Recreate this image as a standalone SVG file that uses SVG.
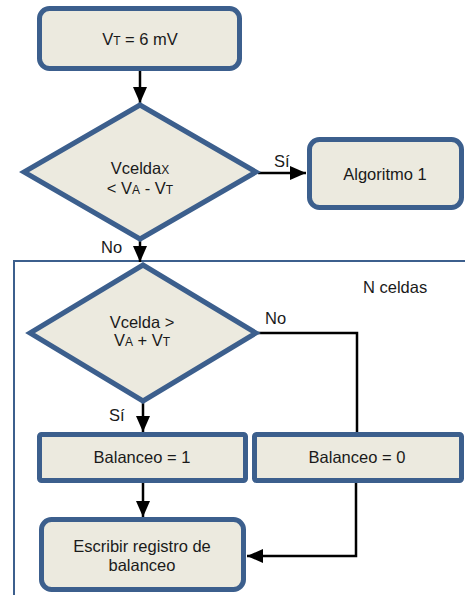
<svg xmlns="http://www.w3.org/2000/svg" width="465" height="595" viewBox="0 0 465 595">
<defs>
<style>
.n{fill:#ECEADF;stroke:#3C5F8D;stroke-width:5}
.t{font-family:"Liberation Sans",Arial,sans-serif;font-size:16.5px;fill:#1a1a1a;text-anchor:middle}
.l{font-family:"Liberation Sans",Arial,sans-serif;font-size:16.5px;fill:#1a1a1a}
.s{font-size:12px}
.c{fill:none;stroke:#000;stroke-width:2.5}
</style>
<marker id="a" viewBox="0 0 16 14" refX="16" refY="7" markerWidth="16" markerHeight="14" markerUnits="userSpaceOnUse" orient="auto">
<path d="M0,0L16,7L0,14Z" fill="#000"/>
</marker>
</defs>
<rect id="container" x="14" y="261" width="460" height="345" fill="none" stroke="#3C5F8D" stroke-width="2"/>
<text class="l" x="363" y="293">N celdas</text>
<g id="connectors">
<path class="c" d="M140,71V103" style="marker-end:url(#a)"/>
<path class="c" d="M258,173H306" style="marker-end:url(#a)"/>
<path class="c" d="M140,240V262" style="marker-end:url(#a)"/>
<path class="c" d="M143,402V432" style="marker-end:url(#a)"/>
<path class="c" d="M258,333H357V432"/>
<path class="c" d="M143,483V517" style="marker-end:url(#a)"/>
<path class="c" d="M356,483V556H247" style="marker-end:url(#a)"/>
<text class="l" x="274" y="167">Sí</text>
<text class="l" x="101" y="253">No</text>
<text class="l" x="265" y="324">No</text>
<text class="l" x="109" y="421">Sí</text>
</g>
<g id="start">
<rect class="n" x="39.5" y="8.5" width="200" height="60" rx="10"/>
<text class="t" x="140" y="45">V<tspan class="s">T</tspan> = 6 mV</text>
</g>
<g id="dec1">
<polygon class="n" points="140,105 256,172 140,239 24,172"/>
<text class="t" x="140" y="174">Vcelda<tspan class="s">X</tspan></text>
<text class="t" x="140" y="194">&lt; V<tspan class="s">A</tspan> - V<tspan class="s">T</tspan></text>
</g>
<g id="alg1">
<rect class="n" x="309.5" y="139.5" width="152" height="68" rx="10"/>
<text class="t" x="385" y="180">Algoritmo 1</text>
</g>
<g id="dec2">
<polygon class="n" points="143,265 256,333 143,401 30,333"/>
<text class="t" x="142" y="328">Vcelda &gt;</text>
<text class="t" x="142" y="346">V<tspan class="s">A</tspan> + V<tspan class="s">T</tspan></text>
</g>
<g id="bal1">
<rect class="n" x="39.5" y="434.5" width="206" height="46" rx="2"/>
<text class="t" x="142" y="463">Balanceo = 1</text>
</g>
<g id="bal0">
<rect class="n" x="254.5" y="434.5" width="207" height="46" rx="2"/>
<text class="t" x="357" y="463">Balanceo = 0</text>
</g>
<g id="write">
<rect class="n" x="41.5" y="519.5" width="202" height="70" rx="10"/>
<text class="t" x="142" y="552">Escribir registro de</text>
<text class="t" x="142" y="571">balanceo</text>
</g>
</svg>
